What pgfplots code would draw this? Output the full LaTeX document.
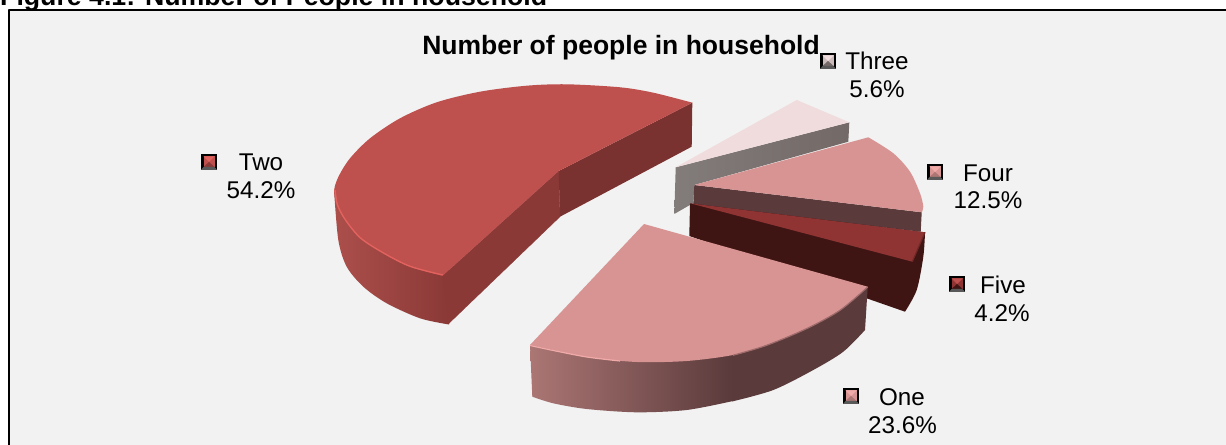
\documentclass[border=0pt]{standalone}
\usepackage{pgfplots}
\pgfplotsset{compat=1.18}
\usepackage{fontspec}
\setmainfont{Liberation Sans}
\definecolor{panel}{HTML}{F2F2F2}
\definecolor{twoTop}{HTML}{BE504E}
\definecolor{twoRim}{HTML}{E2625E}
\definecolor{twoSideA}{HTML}{AC4F4B}
\definecolor{twoSideB}{HTML}{8A3937}
\definecolor{twoWallA}{HTML}{8A3937}
\definecolor{twoWallB}{HTML}{7A3230}
\definecolor{oneTop}{HTML}{D89393}
\definecolor{oneRim}{HTML}{F0ABA9}
\definecolor{oneSideA}{HTML}{AB7674}
\definecolor{oneSideB}{HTML}{5A3A3B}
\definecolor{threeTop}{HTML}{F0DCDC}
\definecolor{threeWallA}{HTML}{827C7A}
\definecolor{threeWallB}{HTML}{736967}
\definecolor{fiveTop}{HTML}{8F3433}
\definecolor{fiveSide}{HTML}{3E1513}
% legend key: black square holding a small bevelled pyramid
% #1,#2 centre; #3 side facets; #4 upper facet; #5 lower facet
\newcommand{\legendkey}[5]{%
  \pgfmathsetmacro{\xa}{#1-8}\pgfmathsetmacro{\xb}{#1+8}%
  \pgfmathsetmacro{\ya}{#2-8}\pgfmathsetmacro{\yb}{#2+8}%
  \pgfmathsetmacro{\xc}{#1-5.5}\pgfmathsetmacro{\xd}{#1+5.5}%
  \pgfmathsetmacro{\yc}{#2-5.5}\pgfmathsetmacro{\yd}{#2+5}%
  \addplot[draw=none,fill=black] coordinates {(\xa,\ya)(\xb,\ya)(\xb,\yb)(\xa,\yb)} --cycle;
  \addplot[draw=none,fill=#3] coordinates {(\xc,\yc)(\xd,\yc)(\xd,\yd)(\xc,\yd)} --cycle;
  \addplot[draw=none,fill=#4] coordinates {(\xc,\yc)(\xd,\yc)(#1,#2)} --cycle;
  \addplot[draw=none,fill=#5] coordinates {(\xc,\yd)(\xd,\yd)(#1,#2)} --cycle;
  \addplot[draw=none,fill=black!65] coordinates {(\xa,\yb)(\xb,\yb)(\xd,\yd)(\xc,\yd)} --cycle;
}
\newcommand{\slicelabel}[3]{%
  \node[anchor=base,inner sep=0pt,font=\fontsize{24.3}{28}\selectfont] at (axis cs:#1,#2) {#3};
}
\begin{document}
\begin{tikzpicture}[x=1bp,y=1bp]
\useasboundingbox (0,0) rectangle (1226,445);
\begin{axis}[
  at={(0,0)},anchor=south west,
  width=1226bp,height=445bp,scale only axis,
  xmin=0,xmax=1226,ymin=0,ymax=445,y dir=reverse,
  axis lines=none,clip=false,
  every axis plot/.append style={line join=round},
]
% panel and frame
\addplot[draw=none,fill=panel] coordinates {(9,10)(1226,10)(1226,445)(9,445)} --cycle;
\addplot[draw=black,line width=2bp] coordinates {(9,445)(9,10)(1226,10)};

% Each slice outline: a smooth arc through its rim, closed by straight cuts.
% Two
\addplot[draw=none,smooth,left color=twoSideA,right color=twoSideB] coordinates {
 (334,190)(338.3,240)(346.7,266.7)(363.3,286.7)(386.7,303.3)(420,318.3)(449,324.5)}
 -- (axis cs:449,270) -- cycle;
\addplot[draw=twoWallA,line width=0.3bp,fill=twoWallA] coordinates {(442.7,275.7)(558.7,171)(560,216.7)(448.3,324)} --cycle;
\addplot[draw=none,fill=twoWallB] coordinates {(558.7,171)(692.3,102.7)(691.7,146.7)(560,216.7)} --cycle;
\addplot[draw=none,smooth,fill=twoTop] coordinates {
 (692.3,102.7)(653.3,92.7)(620,87.3)(566.7,84.3)(526.7,85.7)(480,91.7)(436.7,102.3)(400,118.3)
 (370,138.3)(350,158.3)(338.8,176)(334.2,190)(336.7,205)(345,220)(360,238.3)(383.3,253.3)
 (410,266.7)(442.7,275.7)} -- (axis cs:558.7,171) -- cycle;
\addplot[draw=twoRim,line width=1.4bp,smooth] coordinates {
 (335,190)(337.5,205)(345.5,220)(360.5,238)(383.5,253)(410,266.3)(442.7,275)};

% Three
\addplot[draw=none,left color=threeWallA,right color=threeWallB] coordinates {
 (675.7,167.3)(849.3,122.3)(848.3,141.7)(694.3,185)(693.3,203)(674.3,214)} --cycle;
\addplot[draw=none,fill=threeTop] coordinates {(675.7,167.3)(796.7,100)(849.3,122.3)} --cycle;

% Four
\addplot[draw=none,fill=oneSideB] coordinates {(694.3,185)(921.7,212.3)(920.7,231.7)(693.3,205)} --cycle;
\addplot[draw=none,smooth,fill=oneTop] coordinates {
 (868.3,137.3)(893.3,153.3)(910,171.7)(920,193.3)(923.3,206.7)(921.7,212.3)} -- (axis cs:694.3,185) -- cycle;

% Five
\addplot[draw=none,smooth,fill=fiveSide] coordinates {
 (925,232.3)(923.3,256.7)(916.7,290)(905,311.7)} -- (axis cs:860,296) -- (axis cs:689.3,236) -- (axis cs:690,203.3) -- cycle;
\addplot[draw=none,fill=fiveTop] coordinates {(690,203.3)(925,232.3)(912.3,261.7)} --cycle;
\addplot[draw=fiveTop!60!fiveSide,line width=1.2bp] coordinates {(912.3,261.7)(925,232.3)};

% One
\addplot[draw=none,smooth,fill=oneSideB] coordinates {
 (732,401.5)(773.3,390)(813.3,370)(843.3,351.7)(865,330)} -- (axis cs:867.7,286.7) -- (axis cs:732,340) -- cycle;
\addplot[draw=none,smooth,left color=oneSideA,right color=oneSideB] coordinates {
 (532.3,396.7)(553.3,403.3)(586.7,409)(636.7,412.3)(686.7,410)(733,401)} -- (axis cs:733,355) -- (axis cs:530,345) -- cycle;
\addplot[draw=none,smooth,fill=oneTop] coordinates {
 (867.7,286.7)(840,310)(806.7,328.3)(766.7,345)(733,355)(686.7,361)(636.7,362)
 (586.7,357)(553.3,350)(530,345)} -- (axis cs:644,224) -- cycle;
\addplot[draw=oneRim,line width=1.2bp,smooth] coordinates {(530,345.5)(553.3,350.5)(586.7,357)(620,361)};
\addplot[draw=oneTop!55!oneSideB,line width=1.2bp,smooth] coordinates {(867.7,287)(840,310.3)(806.7,328.6)(766.7,345.3)(733,355.3)};

% legend keys
\legendkey{209}{162}{twoTop}{twoRim}{twoSideB}
\legendkey{828}{61}{threeTop!85!black}{threeTop}{threeWallB}
\legendkey{935}{172}{oneTop}{oneRim}{oneSideA}
\legendkey{957}{284}{fiveTop}{twoTop}{fiveSide}
\legendkey{851}{396}{oneTop}{oneRim}{oneSideA}

% titles
\node[anchor=base west,inner sep=0pt,font=\bfseries\fontsize{26.8}{30}\selectfont] at (axis cs:0,6) {Figure 4.1: Number of People in household};
\node[anchor=base,inner sep=0pt,font=\bfseries\fontsize{26.6}{30}\selectfont] at (axis cs:621,55) {Number of people in household};

% slice labels
\slicelabel{261}{171}{Two}
\slicelabel{261}{198.5}{54.2\%}
\slicelabel{877}{70}{Three}
\slicelabel{877}{98}{5.6\%}
\slicelabel{988}{182}{Four}
\slicelabel{988}{209}{12.5\%}
\slicelabel{1003}{294}{Five}
\slicelabel{1002}{322}{4.2\%}
\slicelabel{902}{406}{One}
\slicelabel{902.5}{434}{23.6\%}
\end{axis}
\end{tikzpicture}
\end{document}
